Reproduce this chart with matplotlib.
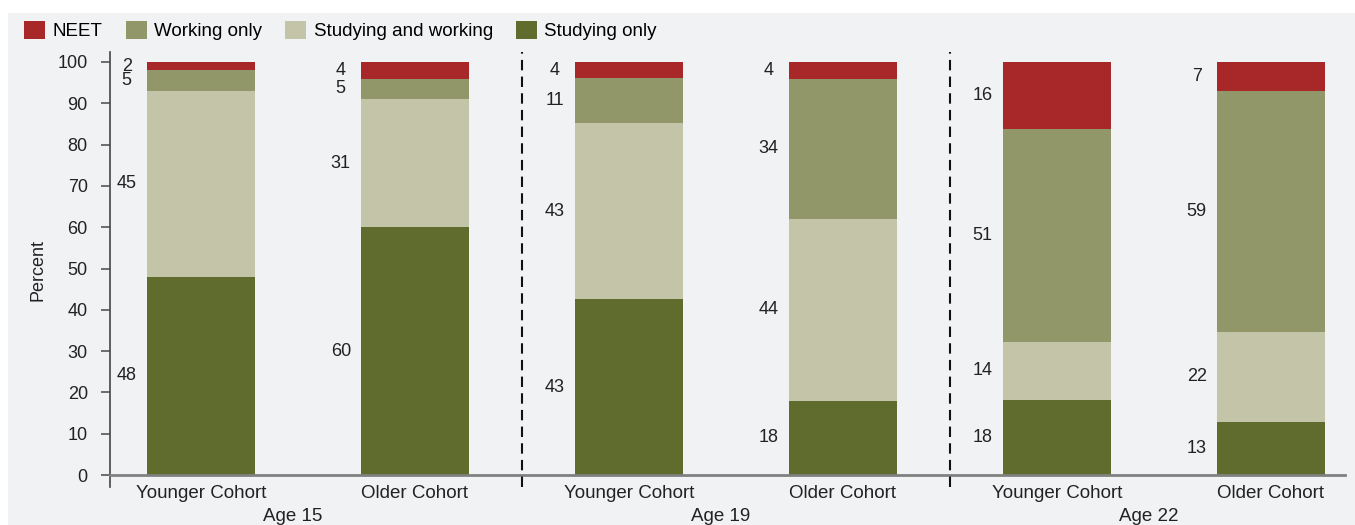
import numpy as np
import matplotlib.pyplot as plt
from matplotlib.patches import Rectangle

# Datos (porcentajes)
ages = ['Age 15', 'Age 19', 'Age 22']
cohorts = ['Younger Cohort', 'Older Cohort'] * 3
studying_only = [48, 60, 43, 18, 18, 13]
studying_working = [45, 31, 43, 44, 14, 22]
working_only = [5, 5, 11, 34, 51, 59]
neet = [2, 4, 4, 4, 16, 7]

series = [('Studying only', studying_only, '#606b2e'),
          ('Studying and working', studying_working, '#c3c4a8'),
          ('Working only', working_only, '#919769'),
          ('NEET', neet, '#a8282a')]

plt.rcParams['font.family'] = ['Liberation Sans', 'DejaVu Sans']

fig = plt.figure(figsize=(13.55, 5.25), dpi=100)
fig.patches.append(Rectangle((8 / 1355, 0), 1, 1 - 13 / 525, transform=fig.transFigure,
                             facecolor='#f1f2f4', edgecolor='none', zorder=-10))
ax = fig.add_axes([110 / 1355, 0.0716, 1235 / 1355, 0.83])
ax.set_facecolor('none')

x = np.arange(len(cohorts))
width = 0.505
# las barras del original están normalizadas a 100 aunque las etiquetas sumen 99-101
totals = np.sum([s[1] for s in series], axis=0).astype(float)
bottom = np.zeros(len(x))
handles = {}
for name, vals, col in series:
    vals = np.array(vals, dtype=float)
    h = vals / totals * 100
    b = ax.bar(x, h, width, bottom=bottom, color=col, label=name, zorder=2)
    handles[name] = b
    for xi, bi, hi, v in zip(x, bottom, h, vals):
        ax.text(xi - width / 2 - 0.094, bi + hi / 2, f'{int(v)}', ha='center', va='center',
                fontsize=13, color='#222222')
    bottom += h

# Separadores entre grupos de edad
for sep in [1.5, 3.5]:
    ax.axvline(sep, ymin=0, ymax=1.0, color='#111111', lw=1.5, linestyle=(0, (5, 3)),
               clip_on=False, zorder=3)

ax.set_xlim(-0.425, 5.346)
ax.set_ylim(-3, 102.5)
ax.set_yticks(range(0, 101, 10))
ax.tick_params(axis='y', labelsize=13, length=6.5, width=1.2, pad=9.5,
               color='#555555', labelcolor='#222222')
ax.set_xticks(x)
ax.set_xticklabels(cohorts)
ax.tick_params(axis='x', length=0, pad=7, labelsize=13.5, labelcolor='#222222')

for s in ['top', 'right']:
    ax.spines[s].set_visible(False)
ax.spines['left'].set_color('#444444')
ax.spines['left'].set_linewidth(1.2)
ax.spines['bottom'].set_position(('data', 0))
ax.spines['bottom'].set_color('#808080')
ax.spines['bottom'].set_linewidth(2)

ax.set_ylabel('Percent', fontsize=13, color='#222222')
ax.yaxis.set_label_coords(-64 / 1235, 0.5)

for i, age in enumerate(ages):
    ax.text(2 * i + 0.5 - 0.07, -0.066, age, transform=ax.get_xaxis_transform(),
            ha='center', va='center', fontsize=13.5, color='#222222')

order = ['NEET', 'Working only', 'Studying and working', 'Studying only']
fig.legend([handles[n] for n in order], order, loc='upper left', bbox_to_anchor=(0.0125, 0.975),
           ncol=4, frameon=False, fontsize=13.5, handlelength=1.1, handleheight=1.1,
           handletextpad=0.4, columnspacing=1.25, borderaxespad=0)

fig.savefig('out.png', dpi=100)
